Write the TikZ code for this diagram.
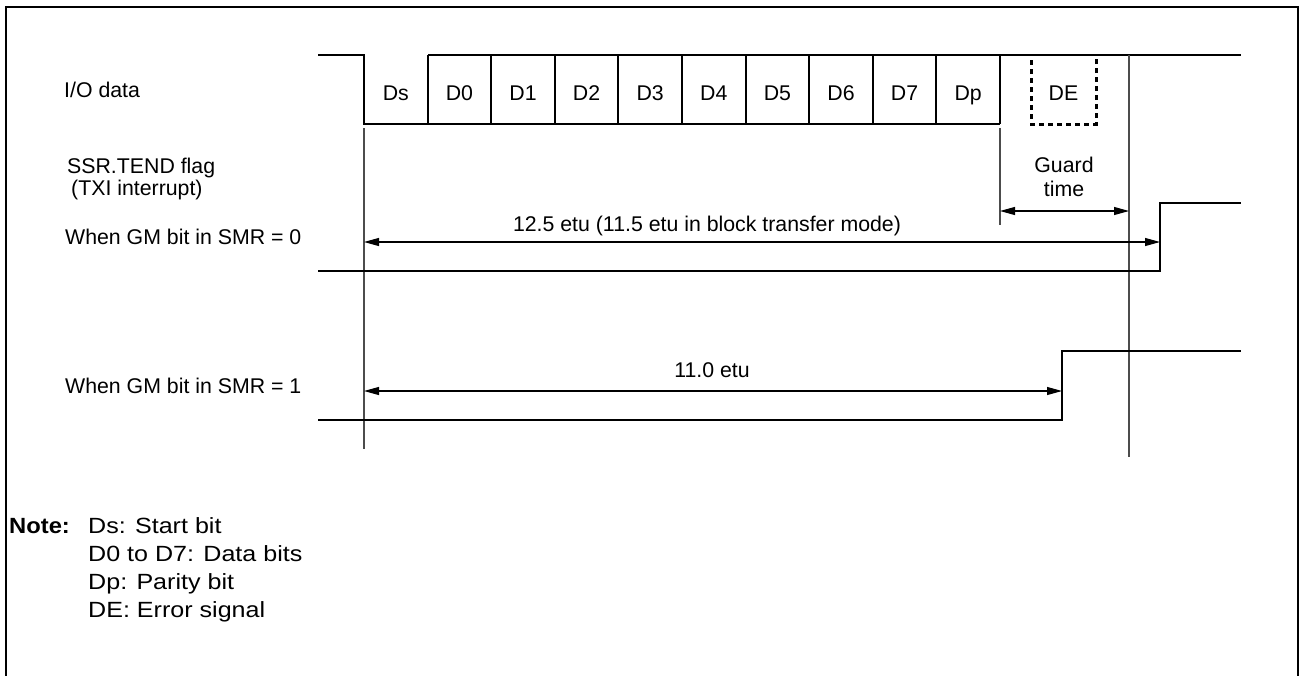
\documentclass[tikz,border=0pt]{standalone}
\usepackage{fontspec}
\usepackage{graphicx}
\setmainfont{Liberation Sans}
\usetikzlibrary{arrows.meta}
\begin{document}
\begin{tikzpicture}[x=1pt,y=-1pt,
  sig/.style={line width=2pt},
  refline/.style={line width=1.3pt, draw=black!70},
  dimarrow/.style={line width=1.1pt, {Triangle[length=15pt,width=8pt]}-{Triangle[length=15pt,width=8pt]}},
  lbl/.style={font=\fontsize{21.3}{25}\selectfont, inner sep=0pt},
  sidelbl/.style={font=\fontsize{21.3}{25}\selectfont, inner sep=0pt, anchor=base west},
  notelbl/.style={font=\fontsize{22}{26}\selectfont, inner sep=0pt, anchor=base west},
  dashedbox/.style={line width=3pt, dash pattern=on 5pt off 4pt}
  ]
\useasboundingbox (0,0) rectangle (1301,675);
% frame
\draw[line width=2pt] (6,676) -- (6,7) -- (1298,7) -- (1298,676);

% left labels
\node[sidelbl] (io) at (64,97) {I/O data};
\node[sidelbl] (ssr) at (67,173) {SSR.TEND flag};
\node[sidelbl] (txi) at (71,195) {(TXI interrupt)};
\node[sidelbl] (gm0) at (65,244) {When GM bit in SMR = 0};
\node[sidelbl] (gm1) at (65,393) {When GM bit in SMR = 1};

% I/O data waveform
\draw[sig] (318,55) -- (364,55) -- (364,124) -- (1000,124);
\draw[sig] (428,55) -- (1241,55);
\foreach \i in {1,...,10} \draw[sig] ({364+63.6*\i},55) -- ({364+63.6*\i},124);
\foreach \t [count=\i from 0] in {Ds,D0,D1,D2,D3,D4,D5,D6,D7,Dp}
  \node[lbl, anchor=base] (c\i) at ({364+63.6*\i+31.8},100) {\t};
\draw[dashedbox] (1031,60) -- (1031,124) -- (1096,124) -- (1096,56);
\node[lbl, anchor=base] (de) at (1063.5,100) {DE};

% reference lines
\draw[refline] (364,128) -- (364,449);
\draw[refline] (1000,128) -- (1000,225);
\draw[refline] (1129,55) -- (1129,457);

% guard time
\node[lbl, anchor=base] (guard) at (1064,172) {Guard};
\node[lbl, anchor=base] (time) at (1064,196) {time};
\coordinate (ga) at (1000,211);
\coordinate (gb) at (1129,211);
\draw[dimarrow] (ga) -- (gb);

% GM = 0
\node[lbl, anchor=base] (l125) at (707,231) {12.5 etu (11.5 etu in block transfer mode)};
\coordinate (a0) at (364,242);
\coordinate (b0) at (1160,242);
\draw[dimarrow] (a0) -- (b0);
\draw[sig] (318,271) -- (1160,271) -- (1160,203) -- (1241,203);

% GM = 1
\node[lbl, anchor=base] (l110) at (712,377) {11.0 etu};
\coordinate (a1) at (364,391);
\coordinate (b1) at (1062,391);
\draw[dimarrow] (a1) -- (b1);
\draw[sig] (318,420) -- (1062,420) -- (1062,351) -- (1241,351);

% note
\node[notelbl] (note) at (9,533) {\scalebox{1.08}[1]{\bfseries Note:}};
\node[notelbl] (n1) at (88,533) {\scalebox{1.14}[1]{Ds: Start bit}};
\node[notelbl] (n2) at (88,561) {\scalebox{1.14}[1]{D0 to D7: Data bits}};
\node[notelbl] (n3) at (88,589) {\scalebox{1.14}[1]{Dp: Parity bit}};
\node[notelbl] (n4) at (88,617) {\scalebox{1.14}[1]{DE: Error signal}};
\end{tikzpicture}
\end{document}
